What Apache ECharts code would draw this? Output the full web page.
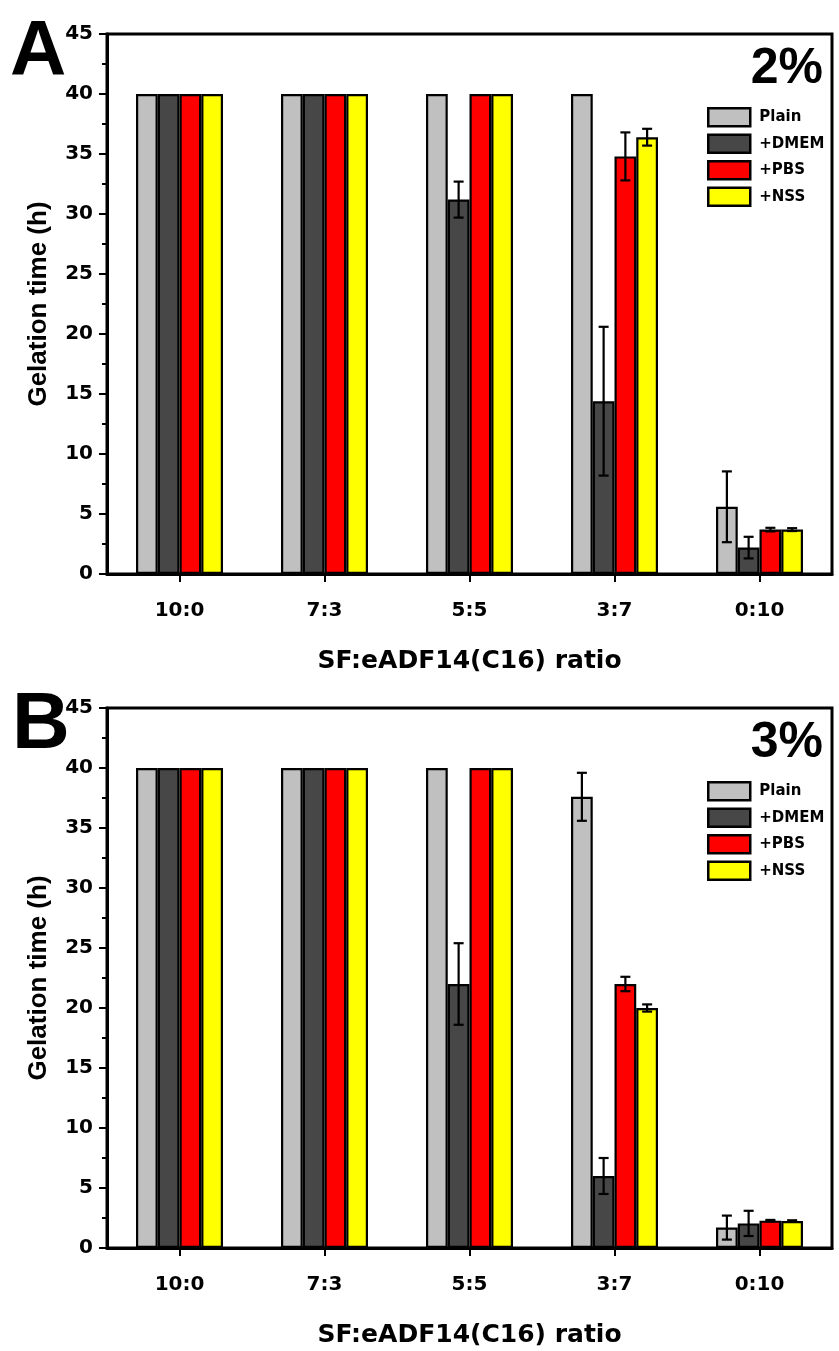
<!DOCTYPE html>
<html>
<head>
<meta charset="utf-8">
<script src="https://cdn.jsdelivr.net/npm/echarts@6/dist/echarts.min.js"></script>
<style>html,body{margin:0;padding:0;background:#fff}#c{width:839px;height:1351px}</style>
</head>
<body>
<div id="c"></div>
<script>
// ---- data ----
const categories = ['10:0', '7:3', '5:5', '3:7', '0:10'];
const seriesNames = ['Plain', '+DMEM', '+PBS', '+NSS'];
const yTicks = [0, 5, 10, 15, 20, 25, 30, 35, 40, 45];

// Panel A (2%)
const plainA = [40, 40, 40, 40, 5.6];
const dmemA  = [40, 40, 31.2, 14.4, 2.2];
const pbsA   = [40, 40, 40, 34.8, 3.7];
const nssA   = [40, 40, 40, 36.4, 3.7];
const plainErrA = [0, 0, 0, 0, 2.95];
const dmemErrA  = [0, 0, 1.5, 6.2, 0.9];
const pbsErrA   = [0, 0, 0, 2.0, 0.15];
const nssErrA   = [0, 0, 0, 0.7, 0.12];

// Panel B (3%)
const plainB = [40, 40, 40, 37.6, 1.7];
const dmemB  = [40, 40, 22.0, 6.0, 2.05];
const pbsB   = [40, 40, 40, 22.0, 2.28];
const nssB   = [40, 40, 40, 20.0, 2.25];
const plainErrB = [0, 0, 0, 2.0, 1.0];
const dmemErrB  = [0, 0, 3.4, 1.5, 1.05];
const pbsErrB   = [0, 0, 0, 0.6, 0.06];
const nssErrB   = [0, 0, 0, 0.3, 0.06];

const colors = ['#c0c0c0', '#474747', '#ff0000', '#ffff00'];
const FONT = 'Liberation Sans, Arial, sans-serif';
const WIDE = 'DejaVu Sans, sans-serif';

const chart = echarts.init(document.getElementById('c'), null, {renderer: 'canvas'});

const panels = [
  {vals: [plainA, dmemA, pbsA, nssA], errs: [plainErrA, dmemErrA, pbsErrA, nssErrA], top: 34},
  {vals: [plainB, dmemB, pbsB, nssB], errs: [plainErrB, dmemErrB, pbsErrB, nssErrB], top: 708}
];

const GAP = 0.4; // barCategoryGap
const grids = [], xAxes = [], yAxes = [], series = [], legends = [];

function renderErr(params, api) {
  const ci = api.value(0), v = api.value(1), e = api.value(2), si = api.value(3);
  const c = api.coord([ci, v]);
  const band = api.size([1, 0])[0];
  const bw = band * (1 - GAP) / 4;
  const x = c[0] - band * (1 - GAP) / 2 + bw * (si + 0.5);
  const yt = api.coord([ci, v + e])[1];
  const yb = api.coord([ci, v - e])[1];
  const hw = 5;
  const st = {stroke: '#000', lineWidth: 2.2};
  return {type: 'group', children: [
    {type: 'line', shape: {x1: x, y1: yt, x2: x, y2: yb}, style: st},
    {type: 'line', shape: {x1: x - hw, y1: yt, x2: x + hw, y2: yt}, style: st},
    {type: 'line', shape: {x1: x - hw, y1: yb, x2: x + hw, y2: yb}, style: st}
  ]};
}

panels.forEach((p, gi) => {
  grids.push({left: 107, top: p.top, width: 725, height: 540, show: true,
    borderColor: '#000', borderWidth: 3, backgroundColor: 'transparent'});
  xAxes.push({type: 'category', gridIndex: gi, data: categories,
    axisLine: {lineStyle: {color: '#000', width: 3}},
    axisTick: {show: true, alignWithLabel: true, inside: false, length: 8, lineStyle: {width: 2, color: '#000'}},
    axisLabel: {color: '#000', fontFamily: WIDE, fontWeight: 'bold', fontSize: 20, margin: 27},
    name: 'SF:eADF14(C16) ratio', nameLocation: 'middle', nameGap: 75,
    nameTextStyle: {color: '#000', fontFamily: WIDE, fontWeight: 'bold', fontSize: 25},
    splitLine: {show: false}
  });
  yAxes.push({type: 'value', gridIndex: gi, min: 0, max: 45, interval: 5,
    axisLine: {show: true, lineStyle: {color: '#000', width: 3}},
    axisTick: {show: true, inside: false, length: 8, lineStyle: {width: 2, color: '#000'}},
    minorTick: {show: true, splitNumber: 2, length: 5, lineStyle: {width: 2, color: '#000'}},
    axisLabel: {color: '#000', fontFamily: WIDE, fontWeight: 'bold', fontSize: 20, margin: 14,
      formatter: v => yTicks.includes(v) ? String(v) : ''},
    name: 'Gelation time (h)', nameLocation: 'middle', nameGap: 55, nameRotate: 90,
    nameTextStyle: {color: '#000', fontFamily: FONT, fontWeight: 'bold', fontSize: 26},
    splitLine: {show: false}
  });
  seriesNames.forEach((nm, si) => {
    series.push({type: 'bar', name: nm, xAxisIndex: gi, yAxisIndex: gi,
      data: p.vals[si], barGap: '0%', barCategoryGap: (GAP * 100) + '%',
      itemStyle: {color: colors[si], borderColor: '#000', borderWidth: 2.2},
      emphasis: {disabled: true}, z: 2});
  });
  const errData = [];
  seriesNames.forEach((nm, si) => {
    p.vals[si].forEach((v, ci) => {
      if (p.errs[si][ci] > 0) errData.push([ci, v, p.errs[si][ci], si]);
    });
  });
  series.push({type: 'custom', xAxisIndex: gi, yAxisIndex: gi, renderItem: renderErr,
    data: errData, z: 5, silent: true});
  legends.push({orient: 'vertical', left: 707, top: p.top + 73, padding: 0, icon: 'rect',
    itemWidth: 42, itemHeight: 18, itemGap: 6, data: seriesNames, selectedMode: false,
    itemStyle: {borderColor: '#000', borderWidth: 2.5},
    textStyle: {color: '#000', fontFamily: WIDE, fontWeight: 'bold', fontSize: 15, padding: [0, 0, 0, 4]}});
});

chart.setOption({
  backgroundColor: '#ffffff',
  animation: false,
  grid: grids, xAxis: xAxes, yAxis: yAxes, series: series, legend: legends,
  graphic: [
    {type: 'text', left: 10, top: 14, style: {text: 'A', font: 'bold 78px ' + FONT, fill: '#000'}},
    {type: 'text', left: 12, top: 686, style: {text: 'B', font: 'bold 80px ' + FONT, fill: '#000'}},
    {type: 'text', right: 16, top: 44, style: {text: '2%', font: 'bold 50px ' + FONT, fill: '#000'}},
    {type: 'text', right: 16, top: 718, style: {text: '3%', font: 'bold 50px ' + FONT, fill: '#000'}}
  ]
});
</script>
</body>
</html>
